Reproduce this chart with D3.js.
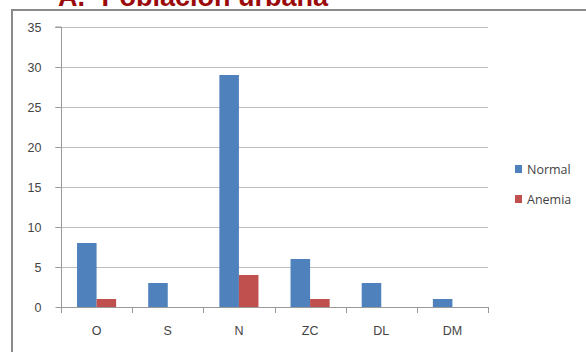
<!DOCTYPE html>
<html>
<head>
<meta charset="utf-8">
<script src="https://cdn.jsdelivr.net/npm/d3@7.9.0/dist/d3.min.js"></script>
<style>
  html, body { margin: 0; padding: 0; background: #fff; }
  svg { display: block; font-family: "Open Sans", "DejaVu Sans", sans-serif; }
</style>
</head>
<body>
<svg width="586" height="352"></svg>
<script>
const categories = ['O', 'S', 'N', 'ZC', 'DL', 'DM'];
const normal = [8, 3, 29, 6, 3, 1];
const anemia = [1, 0, 4, 1, 0, 0];
const seriesNames = ['Normal', 'Anemia'];
const yTicks = [0, 5, 10, 15, 20, 25, 30, 35];

const colors = ['#4F81BD', '#C0504D'];
const svg = d3.select('svg');

// title, clipped at top of the picture
svg.append('text')
  .attr('x', 58).attr('y', 6)
  .attr('fill', '#9B0A0A')
  .attr('font-family', 'Liberation Sans, Arial, sans-serif')
  .attr('font-weight', 'bold')
  .attr('font-size', 27)
  .text('A.- Población urbana');

// chart frame (right/bottom edges are outside the picture)
svg.append('path')
  .attr('d', 'M12,360 L12,10 L600,10')
  .attr('fill', 'none')
  .attr('stroke', '#8a8a8a')
  .attr('stroke-width', 2);

const plotLeft = 61, plotRight = 488, plotTop = 27, plotBottom = 307;

const x = d3.scaleBand().domain(categories).range([plotLeft, plotRight]);
const x1 = d3.scaleBand().domain(seriesNames).range([0, x.bandwidth()]).paddingInner(0).paddingOuter(0.82);
const y = d3.scaleLinear().domain([0, 35]).range([plotBottom, plotTop]);

// gridlines
svg.append('g')
  .selectAll('line')
  .data(yTicks.filter(d => d > 0))
  .join('line')
  .attr('x1', plotLeft - 6).attr('x2', plotRight)
  .attr('y1', d => y(d) + 0.5).attr('y2', d => y(d) + 0.5)
  .attr('stroke', '#bdbdbd');

// y axis
const yAxis = svg.append('g')
  .attr('transform', `translate(${plotLeft + 0.5},0)`)
  .call(d3.axisLeft(y).tickValues(yTicks).tickSize(6).tickPadding(14));
yAxis.select('.domain').attr('stroke', '#9a9a9a').attr('d', `M-6,${plotTop}H0V${plotBottom}`);
yAxis.selectAll('.tick line').attr('stroke', '#9a9a9a');
yAxis.selectAll('.tick text').attr('fill', '#444').attr('font-size', 12.5);

// bars
const data = categories.map((c, i) => ({ cat: c, values: [normal[i], anemia[i]] }));
const groups = svg.append('g').selectAll('g')
  .data(data)
  .join('g')
  .attr('transform', d => `translate(${x(d.cat)},0)`);
groups.selectAll('rect')
  .data(d => d.values.map((v, k) => ({ name: seriesNames[k], value: v, k })))
  .join('rect')
  .filter(d => d.value > 0)
  .attr('x', d => x1(d.name))
  .attr('width', x1.bandwidth())
  .attr('y', d => y(d.value))
  .attr('height', d => y(0) - y(d.value))
  .attr('fill', d => colors[d.k]);

// x axis
const xAxis = svg.append('g')
  .attr('transform', `translate(0,${plotBottom + 0.5})`)
  .call(d3.axisBottom(x).tickSize(0).tickPadding(19));
xAxis.select('.domain').attr('stroke', '#9a9a9a').attr('d', `M${plotLeft},0H${plotRight}`);
xAxis.selectAll('.tick text').attr('fill', '#444').attr('font-size', 12.5);
svg.append('g').selectAll('line')
  .data(categories.map(c => x(c)).concat([plotRight]))
  .join('line')
  .attr('x1', d => Math.round(d) + 0.5).attr('x2', d => Math.round(d) + 0.5)
  .attr('y1', plotBottom).attr('y2', plotBottom + 6)
  .attr('stroke', '#9a9a9a');

// legend
const legend = svg.append('g').selectAll('g')
  .data(seriesNames)
  .join('g')
  .attr('transform', (d, i) => `translate(515,${165 + i * 30})`);
legend.append('rect').attr('width', 7).attr('height', 8).attr('fill', (d, i) => colors[i]);
legend.append('text')
  .attr('x', 12).attr('y', 8.5)
  .attr('fill', '#444').attr('font-size', 12.5)
  .text(d => d);
</script>
</body>
</html>
